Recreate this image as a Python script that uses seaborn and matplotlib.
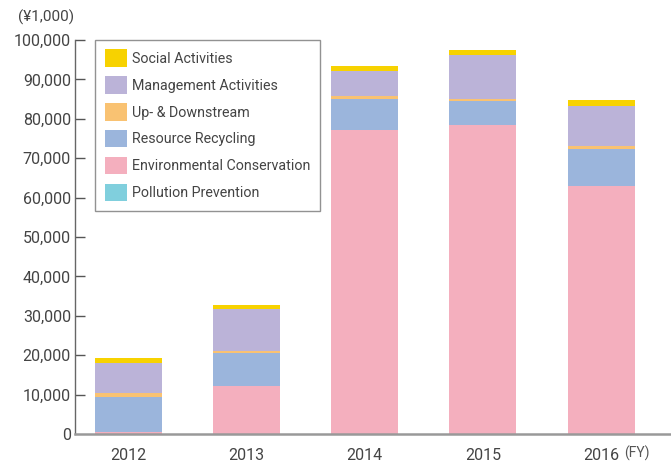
import numpy as np
import pandas as pd
import matplotlib
matplotlib.use("Agg")
import matplotlib.pyplot as plt
import seaborn as sns
from matplotlib.patches import Patch

# Dữ liệu (đơn vị: ¥1,000)
years = ["2012", "2013", "2014", "2015", "2016"]
pollution = [100, 100, 100, 100, 100]
environmental = [490, 12190, 77000, 78270, 62750]
resource = [8820, 8320, 7900, 6110, 9410]
updown = [1100, 510, 750, 510, 770]
management = [7570, 10690, 6440, 11270, 10180]
social = [1330, 1010, 1190, 1200, 1520]

series_names = ["Pollution Prevention", "Environmental Conservation", "Resource Recycling",
                "Up- & Downstream", "Management Activities", "Social Activities"]
series_values = [pollution, environmental, resource, updown, management, social]
colors = ["#80CFDD", "#F4AFBE", "#9BB5DC", "#F9C272", "#BBB3D8", "#F7D200"]

sns.set_theme(style="white")
plt.rcParams["font.family"] = ["Roboto", "DejaVu Sans"]

df = pd.DataFrame({"year": years})
for name, vals in zip(series_names, series_values):
    df[name] = vals
# cộng dồn để vẽ chồng (vẽ cột cao nhất trước)
cum = df[series_names].cumsum(axis=1)

fig = plt.figure(figsize=(6.71, 4.65), dpi=100)
ax = fig.add_axes([0.112, 0.0667, 0.888, 0.8473])

for name, color in reversed(list(zip(series_names, colors))):
    plot_df = pd.DataFrame({"year": years, "value": cum[name].values})
    sns.barplot(data=plot_df, x="year", y="value", order=years, color=color,
                width=0.567, saturation=1, ax=ax, linewidth=0)

ax.set_xlim(-0.448, 4.59)
ax.set_ylim(0, 100000)
ax.set_yticks(np.arange(0, 100001, 10000))
ax.set_yticklabels([f"{v:,}" for v in range(0, 100001, 10000)])
ax.set_xlabel("")
ax.set_ylabel("")

for s in ["top", "right"]:
    ax.spines[s].set_visible(False)
ax.spines["left"].set_color("#666666")
ax.spines["left"].set_linewidth(1.0)
ax.spines["bottom"].set_color("#999999")
ax.spines["bottom"].set_linewidth(1.8)

ax.tick_params(axis="y", direction="in", length=7, width=1, color="#555555",
               labelsize=11.5, labelcolor="#444444", pad=3, left=True)
ax.tick_params(axis="x", length=0, labelsize=11.5, labelcolor="#444444", pad=10)
# bỏ vạch tại 0
ax.yaxis.get_major_ticks()[0].tick1line.set_visible(False)

fig.text(0.027, 0.962, "(¥1,000)", fontsize=11, color="#444444", ha="left", va="center")
fig.text(0.930, 0.016, "(FY)", fontsize=10, color="#555555", ha="left", va="baseline")

handles = [Patch(facecolor=c, edgecolor="none", label=n)
           for n, c in zip(series_names, colors)][::-1]
leg = ax.legend(handles=handles, loc="upper left", bbox_to_anchor=(0.034, 1.0),
                borderaxespad=0, frameon=True, fancybox=False, fontsize=10.3,
                handlelength=1.55, handleheight=1.5, labelspacing=0.66,
                handletextpad=0.35, borderpad=0.65, labelcolor="#444444")
leg.get_frame().set_edgecolor("#777777")
leg.get_frame().set_linewidth(1.0)

plt.savefig("out.png", dpi=100)
plt.close()
